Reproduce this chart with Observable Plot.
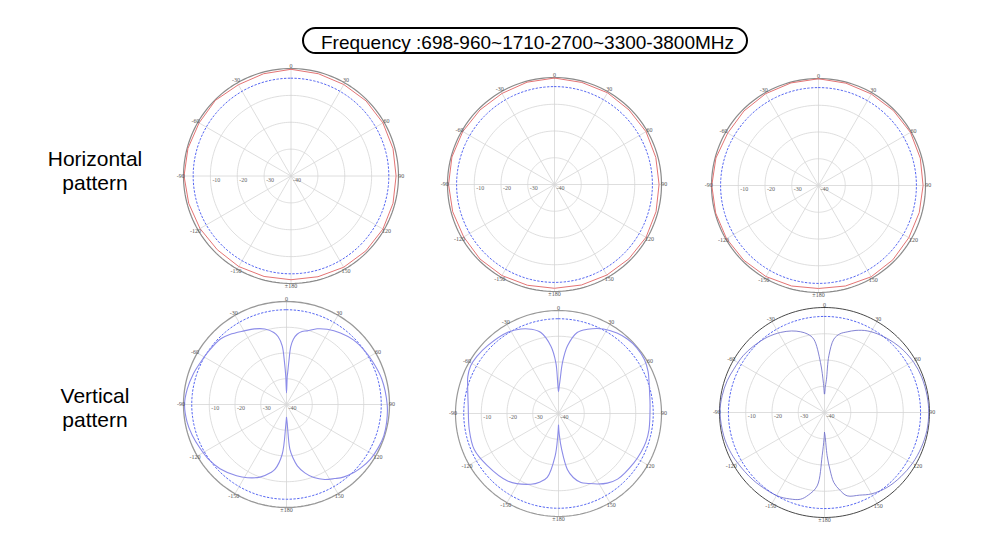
<!DOCTYPE html>
<html><head><meta charset="utf-8">
<script src="https://cdn.jsdelivr.net/npm/d3@7"></script>
<script src="https://cdn.jsdelivr.net/npm/@observablehq/plot@0.6"></script>
<style>
body{margin:0;background:#fff;}
#root{position:relative;width:1000px;height:550px;overflow:hidden;font-family:"Liberation Sans",Arial,sans-serif;background:#fff;}
.title{position:absolute;left:302px;top:27px;width:446px;height:27px;box-sizing:border-box;border:2px solid #000;border-radius:14px;font-size:19px;line-height:25px;padding-top:1px;padding-left:5px;text-align:center;color:#000;white-space:nowrap;}
.row{position:absolute;width:150px;left:20px;text-align:center;font-size:21px;line-height:23.5px;color:#000;}
</style></head>
<body>
<div id="root">
  <div class="title">Frequency :698-960~1710-2700~3300-3800MHz</div>
  <div class="row" style="top:147px">Horizontal<br>pattern</div>
  <div class="row" style="top:384px">Vertical<br>pattern</div>
</div>
<script>
// ---------- axis / tick data ----------
const spokeAngles = [0, 30, 60, 90, 120, 150, 180, 210, 240, 270, 300, 330];
const angleLabels = ["0", "30", "60", "90", "120", "150", "±180", "-150", "-120", "-90", "-60", "-30"];
const ringValues = [-10, -20, -30];
const ringLabelValues = [-10, -20, -30, -40];
const ringLabels = ["-10", "-20", "-30", "-40"];
const dbMin = -40, dbMax = 0;

// ---------- horizontal patterns (red, dB) at 15° steps clockwise from 0 ----------
const hAngles = [0, 15, 30, 45, 60, 75, 90, 105, 120, 135, 150, 165, 180, 195, 210, 225, 240, 255, 270, 285, 300, 315, 330, 345];
const h1Gain = [-0.3, -0.6, -0.7, -0.5, -0.5, -0.7, -0.9, -0.7, -0.5, -0.6, -0.8, -1.2, -1.4, -1.3, -1.1, -1.2, -0.9, -0.6, -0.2, -0.3, -0.5, -0.2, -0.8, -0.6];
const h2Gain = [-0.2, -0.5, -0.4, -0.6, -0.5, -0.8, -0.9, -0.7, -0.5, -0.7, -0.9, -1.1, -1.2, -1.0, -0.7, -0.6, -0.8, -0.6, -0.4, -0.3, -0.4, -0.6, -0.7, -0.4];
const h3Gain = [-0.1, -0.4, -0.5, -0.4, -0.3, -0.6, -0.9, -1.0, -1.0, -0.7, -0.6, -1.1, -1.5, -1.1, -0.7, -0.5, -0.3, -0.2, -0.1, -0.3, -0.8, -0.6, -0.4, -0.3];

// ---------- vertical patterns (blue, dB) ----------
const v1Angles = [-180, -178, -175, -170, -167, -160, -152, -145, -134, -125, -117, -108, -100, -90, -81, -72, -64, -55, -45, -39, -30, -23, -16, -10, -7, -4.2, -2.7, -1.5, 0, 1.5, 2, 3.2, 4.2, 6, 8.6, 12, 15.7, 22, 28.4, 37, 46, 55, 64, 75, 90, 100, 108, 115, 123, 130, 135, 142, 147, 153, 159.5, 165, 170, 173, 175.7, 178, 180];
const v1Gain = [-35, -32, -20.5, -14.5, -12.9, -10, -7.8, -6.2, -4.1, -3.0, -2.4, -1.5, -0.8, -0.4, -1.0, -1.9, -2.8, -3.4, -3.9, -5.0, -7.0, -8.1, -9.5, -11.6, -13.5, -17.2, -23.7, -29, -35.5, -29, -28, -23, -17.5, -14.5, -12.4, -11, -10.3, -8.3, -6.8, -5.2, -3.9, -3.2, -2.6, -1.7, -0.9, -0.5, -0.3, -0.6, -1.1, -2.0, -2.8, -4.2, -5.7, -7.3, -9.7, -12.5, -15.8, -19, -22.6, -33, -35];

const v2Angles = [-180, -178, -175.5, -170, -165, -158.6, -143, -126, -113, -100, -85, -73, -68, -61.5, -55, -46, -32, -24, -18, -12.3, -6.5, -3, -1.5, 0, 1.5, 2.8, 4.5, 7.6, 13, 19, 28, 36, 43, 50, 58, 65, 71, 78, 85, 100, 108, 115, 123, 138, 145, 151, 157, 162, 167, 171, 175, 178, 180];
const v2Gain = [-35.5, -31, -23.5, -14.8, -12.5, -10.5, -7.2, -5.7, -4.4, -4.8, -4.8, -3.1, -2.0, -1.2, -1.3, -1.9, -2.8, -4.1, -5.6, -7.8, -13.6, -20.2, -28, -31.5, -29.5, -26.7, -20.1, -13.5, -7.7, -5.4, -2.8, -1.4, -0.6, -0.3, -0.6, -1.6, -2.8, -3.8, -4.3, -4.3, -4.3, -4.6, -5.0, -5.7, -7.0, -8.7, -10.5, -11.8, -14.5, -18, -26, -32, -35.5];

const v3Angles = [-180, -179, -176.9, -174.3, -169, -164.5, -158, -150.4, -134, -119.8, -112, -103, -90, -80.7, -72, -64.5, -55, -46.7, -37, -28.8, -22, -16.6, -12, -8.3, -4.6, -2, 0, 2, 3.4, 4.4, 7.3, 11, 15.7, 21, 27.6, 36, 44.7, 52, 60.8, 70, 80.8, 90, 100, 110, 120, 130, 140, 150, 157, 164.8, 169, 172.4, 174.5, 176.5, 178.5, 180];
const v3Gain = [-32.4, -30, -23.5, -11.9, -8.0, -5.7, -4.5, -3.5, -2.6, -1.7, -1.1, -0.6, -0.2, -0.5, -1.0, -1.7, -2.2, -3.0, -4.0, -5.2, -6.5, -7.9, -9.5, -11.8, -20.9, -29, -33, -30, -27.3, -18.3, -11.8, -9.5, -8.1, -6.5, -4.9, -3.6, -2.5, -1.7, -1.0, -0.6, -0.4, -0.3, -0.4, -0.8, -1.3, -2.0, -2.8, -4.2, -5.8, -7.1, -10, -13.1, -18, -23.5, -31, -32.4];

// -3 dB style reference circles (dashed), dB
const refGain = [-3.6, -3.4, -3.4, -3.2, -3.2, -3.4];

// ---------- drawing ----------
function polar(a, g) {
  const rho = (g - dbMin) / (dbMax - dbMin);
  const t = a * Math.PI / 180;
  return {x: rho * Math.sin(t), y: rho * Math.cos(t)};
}
function circlePts(g, key) {
  return d3.range(0, 361, 2).map(a => ({key, ...polar(a, g)}));
}

function panel(cfg) {
  const pad = 18;
  const S = Math.round(2 * (cfg.R + pad));
  const L = (S / 2) / cfg.R;
  const rings = ringValues.flatMap(g => circlePts(g, g));
  const outer = circlePts(0, "o");
  const ref = circlePts(cfg.ref, "r");
  const spokes = spokeAngles.map(a => ({...polar(a, 0)}));
  const lab = spokeAngles.map((a, i) => ({...polar(a, 1.0), label: angleLabels[i]}));
  const rlab = ringLabelValues.map((g, i) => ({...polar(-90, g), label: ringLabels[i]}));
  const curve = cfg.angles.map((a, i) => polar(a, cfg.gain[i]));
  if (cfg.closed) curve.push(curve[0]);
  const svg = Plot.plot({
    width: S, height: S, margin: 0,
    x: {domain: [-L, L], axis: null},
    y: {domain: [-L, L], axis: null},
    style: {background: "transparent", overflow: "visible"},
    marks: [
      Plot.link(spokes, {x1: 0, y1: 0, x2: "x", y2: "y", stroke: "#d6d6d6", strokeWidth: 0.8}),
      Plot.line(rings, {x: "x", y: "y", z: "key", stroke: "#d6d6d6", strokeWidth: 0.8}),
      Plot.line(outer, {x: "x", y: "y", stroke: cfg.outerColor, strokeWidth: cfg.outerWidth}),
      Plot.line(ref, {x: "x", y: "y", stroke: "#5566f2", strokeWidth: 1, strokeDasharray: "1.6,2.2"}),
      Plot.line(curve, {x: "x", y: "y", stroke: cfg.color, strokeWidth: cfg.width, curve: cfg.closed ? "linear" : "catmull-rom"}),
      Plot.text(rlab, {x: "x", y: "y", text: "label", textAnchor: "start", dx: 2, dy: 4, fontSize: 6, fill: "#666", fontFamily: "Liberation Serif, serif"}),
      Plot.text(lab, {x: "x", y: "y", text: "label", fontSize: 6, fill: "#555", fontFamily: "Liberation Serif, serif"})
    ]
  });
  svg.style.position = "absolute";
  svg.style.left = (cfg.cx - S / 2) + "px";
  svg.style.top = (cfg.cy - S / 2) + "px";
  document.getElementById("root").appendChild(svg);
}

const red = "#e47474";
panel({cx: 290, cy: 175.5, R: 107.5, angles: hAngles, gain: h1Gain, closed: true, ref: refGain[0], color: red, width: 1, outerColor: "#8a8a8a", outerWidth: 1.2});
panel({cx: 554, cy: 184.3, R: 107, angles: hAngles, gain: h2Gain, closed: true, ref: refGain[1], color: red, width: 1, outerColor: "#8a8a8a", outerWidth: 1.2});
panel({cx: 818.3, cy: 184.7, R: 107, angles: hAngles, gain: h3Gain, closed: true, ref: refGain[2], color: red, width: 1, outerColor: "#8a8a8a", outerWidth: 1.2});
panel({cx: 286.3, cy: 404, R: 103, angles: v1Angles, gain: v1Gain, closed: false, ref: refGain[3], color: "#8c8ce8", width: 1.1, outerColor: "#999", outerWidth: 1.3});
panel({cx: 557.5, cy: 412.5, R: 103, angles: v2Angles, gain: v2Gain, closed: false, ref: refGain[4], color: "#8c8ce8", width: 1.1, outerColor: "#999", outerWidth: 1.2});
panel({cx: 823.5, cy: 411.5, R: 105, angles: v3Angles, gain: v3Gain, closed: false, ref: refGain[5], color: "#6464c8", width: 0.8, outerColor: "#333", outerWidth: 0.9});
</script>
</body></html>
